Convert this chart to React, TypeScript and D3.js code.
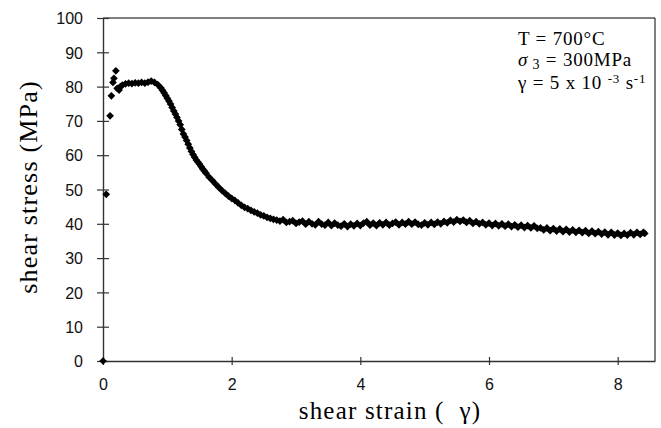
import React, { useEffect, useRef } from 'react';
import * as d3 from 'd3';

// shear strain (gamma) and shear stress (MPa)
const strain = [
  0, 0.05, 0.11, 0.13, 0.155, 0.17, 0.2, 0.22, 0.25, 0.27,
  0.3, 0.35, 0.4, 0.45, 0.5, 0.55, 0.6, 0.65, 0.7, 0.75, 0.8, 0.85,
  0.9, 0.925, 0.95, 0.975, 1.0, 1.025, 1.05, 1.075, 1.1, 1.125, 1.15, 1.175, 1.2, 1.225,
  1.25, 1.275, 1.3, 1.325, 1.35, 1.375, 1.4, 1.425, 1.45, 1.475, 1.5, 1.525, 1.55, 1.575,
  1.6, 1.65, 1.7, 1.75, 1.8, 1.85, 1.9, 1.95, 2.0, 2.05, 2.1, 2.15, 2.2, 2.25, 2.3, 2.35,
  2.4, 2.45, 2.5, 2.55, 2.6, 2.65, 2.7, 2.75, 2.8, 2.85, 2.9, 2.95, 3.0, 3.05, 3.1, 3.15,
  3.2, 3.25, 3.3, 3.35, 3.4, 3.45, 3.5, 3.55, 3.6, 3.65, 3.7, 3.75, 3.8, 3.85, 3.9, 3.95,
  4.0, 4.05, 4.1, 4.15, 4.2, 4.25, 4.3, 4.35, 4.4, 4.45, 4.5, 4.55, 4.6, 4.65, 4.7, 4.75,
  4.8, 4.85, 4.9, 4.95, 5.0, 5.05, 5.1, 5.15, 5.2, 5.25, 5.3, 5.35, 5.4, 5.45, 5.5, 5.55,
  5.6, 5.65, 5.7, 5.75, 5.8, 5.85, 5.9, 5.95, 6.0, 6.05, 6.1, 6.15, 6.2, 6.25, 6.3, 6.35,
  6.4, 6.45, 6.5, 6.55, 6.6, 6.65, 6.7, 6.75, 6.8, 6.85, 6.9, 6.95, 7.0, 7.05, 7.1, 7.15,
  7.2, 7.25, 7.3, 7.35, 7.4, 7.45, 7.5, 7.55, 7.6, 7.65, 7.7, 7.75, 7.8, 7.85, 7.9, 7.95,
  8.0, 8.05, 8.1, 8.15, 8.2, 8.25, 8.3, 8.35, 8.4, 8.42
];
const stress = [
  0, 48.6, 71.5, 77.3, 81.2, 82.4, 84.6, 79.5, 79.0, 80.0,
  80.4, 80.8, 81.0, 80.9, 81.1, 81.0, 81.2, 81.0, 81.3, 81.6, 81.2, 80.6,
  79.6, 78.9, 78.2, 77.4, 76.6, 75.8, 74.9, 73.9, 72.9, 72.0, 71.0, 70.0, 68.9, 67.5,
  66.2, 65.3, 64.3, 63.2, 62.1, 61.1, 60.2, 59.4, 58.6, 58.0, 57.4, 56.7, 56.0, 55.4,
  54.8, 53.6, 52.6, 51.6, 50.6, 49.7, 48.9, 48.1, 47.4, 46.8, 46.1, 45.4, 44.8, 44.4, 43.9, 43.5,
  43.1, 42.6, 42.3, 41.9, 41.6, 41.3, 41.1, 40.8, 41.2, 40.4, 40.6, 40.9, 40.1, 40.5, 40.8, 39.9,
  40.6, 40.0, 39.7, 40.6, 39.9, 39.6, 40.4, 39.5, 40.2, 39.6, 39.3, 40.0, 39.2, 39.9, 39.4, 40.1,
  39.5, 40.2, 40.6, 39.6, 40.2, 39.5, 40.3, 39.7, 40.4, 39.6, 40.1, 40.5, 39.7, 40.4, 39.9, 40.6,
  39.9, 40.5, 39.8, 39.6, 40.3, 39.7, 40.4, 39.8, 40.5, 40.0, 40.7, 40.3, 41.0, 40.5, 41.2, 40.7,
  41.1, 40.4, 40.9, 40.1, 40.6, 40.0, 40.4, 39.7, 40.2, 39.5, 40.1, 39.4, 40.0, 39.3, 39.9, 39.2,
  39.7, 39.0, 39.6, 38.9, 39.5, 38.8, 39.4, 38.7, 38.8, 38.2, 38.8, 38.0, 38.6, 37.9, 38.5, 37.7,
  38.4, 37.6, 38.2, 37.5, 38.1, 37.4, 38.0, 37.2, 37.9, 37.1, 37.7, 37.0, 37.6, 36.8, 37.5, 36.7,
  37.3, 36.6, 37.2, 36.7, 37.4, 36.8, 37.5, 36.9, 37.5, 37.2
];
const xTicks = [0, 2, 4, 6, 8];
const yTicks = [0, 10, 20, 30, 40, 50, 60, 70, 80, 90, 100];

const W = 661;
const H = 428;

export default function App() {
  const ref = useRef<SVGSVGElement>(null);

  useEffect(() => {
    const svg = d3.select(ref.current);
    svg.selectAll('*').remove();

    const left = 103, right = 655, top = 18, bottom = 361;
    const x = d3.scaleLinear().domain([0, 8.58]).range([left, right]);
    const y = d3.scaleLinear().domain([0, 100]).range([bottom, top]);

    // frame top / right
    svg.append('line').attr('x1', left).attr('x2', right).attr('y1', top).attr('y2', top)
      .attr('stroke', '#000').attr('stroke-width', 1);
    svg.append('line').attr('x1', right).attr('x2', right).attr('y1', top).attr('y2', bottom)
      .attr('stroke', '#000').attr('stroke-width', 1);

    // axes, ticks crossing the line
    const xAxis = svg.append('g').attr('transform', 'translate(0,' + bottom + ')')
      .call(d3.axisBottom(x).tickValues(xTicks).tickSizeInner(4).tickSizeOuter(0).tickFormat(d3.format('d')));
    xAxis.select('.domain').attr('stroke', '#333').attr('stroke-width', 1.4);
    xAxis.selectAll('.tick line').attr('y1', -4).attr('stroke', '#333').attr('stroke-width', 1.2);
    xAxis.selectAll('.tick text').attr('y', 0).attr('dy', 29)
      .attr('font-family', '"Liberation Sans", Arial, sans-serif').attr('font-size', 16).attr('fill', '#111');

    const yAxis = svg.append('g').attr('transform', 'translate(' + left + ',0)')
      .call(d3.axisLeft(y).tickValues(yTicks).tickSizeInner(6).tickSizeOuter(0));
    yAxis.select('.domain').attr('stroke', '#333').attr('stroke-width', 1.4);
    yAxis.selectAll('.tick line').attr('x1', 6).attr('stroke', '#333').attr('stroke-width', 1.2);
    yAxis.selectAll('.tick text').attr('x', -20).attr('dy', '0.36em')
      .attr('font-family', '"Liberation Sans", Arial, sans-serif').attr('font-size', 16).attr('fill', '#111');

    // diamond markers
    const diamond = d3.symbol().type(d3.symbolSquare).size(30);
    svg.append('g').selectAll('path')
      .data(d3.range(strain.length))
      .enter()
      .append('path')
      .attr('d', diamond)
      .attr('transform', i => 'translate(' + x(strain[i]) + ',' + y(stress[i]) + ') rotate(45)')
      .attr('fill', '#000');

    // axis titles
    svg.append('text')
      .attr('x', 390).attr('y', 419)
      .attr('text-anchor', 'middle')
      .attr('font-family', '"Liberation Serif", "Times New Roman", serif')
      .attr('font-size', 25).attr('letter-spacing', 1.2)
      .style('white-space', 'pre')
      .text('shear strain (  γ)');

    svg.append('text')
      .attr('transform', 'translate(37,187) rotate(-90)')
      .attr('text-anchor', 'middle')
      .attr('font-family', '"Liberation Serif", "Times New Roman", serif')
      .attr('font-size', 26).attr('letter-spacing', 1.2)
      .text('shear stress (MPa)');

    // annotation
    const note = svg.append('g')
      .attr('font-family', '"Liberation Serif", "Times New Roman", serif')
      .attr('font-size', 19).attr('letter-spacing', 0.8);
    note.append('text').attr('x', 518).attr('y', 45).text('T = 700°C');
    const s = note.append('text').attr('x', 518).attr('y', 66).style('white-space', 'pre');
    s.append('tspan').attr('font-style', 'italic').text('σ');
    s.append('tspan').attr('dy', 3).attr('font-size', 14).text(' 3');
    s.append('tspan').attr('dy', -3).text(' = 300MPa');
    const g = note.append('text').attr('x', 518).attr('y', 89).style('white-space', 'pre');
    g.append('tspan').text('γ = 5 x 10 ');
    g.append('tspan').attr('dy', -6).attr('font-size', 13).text('-3');
    g.append('tspan').attr('dy', 6).text(' s');
    g.append('tspan').attr('dy', -6).attr('font-size', 13).text('-1');
  }, []);

  return (
    <svg
      ref={ref}
      width={W}
      height={H}
      style={{ position: 'absolute', left: 0, top: 0, background: '#fff' }}
    />
  );
}
